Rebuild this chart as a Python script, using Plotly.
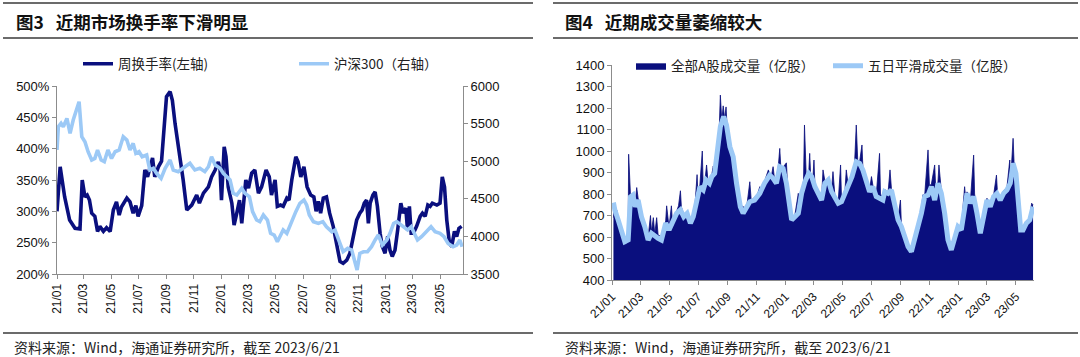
import plotly.graph_objects as go

# ---------------- Left chart data: weekly turnover (%) & CSI 300 ----------------
turn_dates = [
    "2021-01-01", "2021-01-08", "2021-01-18", "2021-01-29", "2021-02-10", "2021-02-21", "2021-02-26",
    "2021-03-04", "2021-03-09", "2021-03-14", "2021-03-19", "2021-03-26", "2021-04-01", "2021-04-06",
    "2021-04-14", "2021-04-21", "2021-04-29", "2021-05-06", "2021-05-13", "2021-05-19", "2021-05-24",
    "2021-06-05", "2021-06-12", "2021-06-19", "2021-06-25", "2021-06-30", "2021-07-08", "2021-07-15",
    "2021-07-21", "2021-07-26", "2021-08-01", "2021-08-06", "2021-08-14", "2021-08-21", "2021-08-27",
    "2021-09-01", "2021-09-09", "2021-09-14", "2021-09-20", "2021-10-01", "2021-10-08", "2021-10-16",
    "2021-10-27", "2021-11-07", "2021-11-13", "2021-11-22", "2021-12-03", "2021-12-10", "2021-12-18",
    "2021-12-25", "2021-12-29", "2022-01-01", "2022-01-07", "2022-01-11", "2022-01-16", "2022-01-24",
    "2022-01-29", "2022-02-04", "2022-02-10", "2022-02-15", "2022-02-18", "2022-02-24", "2022-03-02",
    "2022-03-09", "2022-03-16", "2022-03-24", "2022-03-31", "2022-04-10", "2022-04-17", "2022-04-22",
    "2022-04-30", "2022-05-05", "2022-05-12", "2022-05-18", "2022-05-26", "2022-05-31", "2022-06-06",
    "2022-06-15", "2022-06-20", "2022-06-26", "2022-07-03", "2022-07-10", "2022-07-18", "2022-07-25",
    "2022-07-30", "2022-08-04", "2022-08-09", "2022-08-15", "2022-08-22", "2022-08-29", "2022-09-06",
    "2022-09-14", "2022-09-21", "2022-09-28", "2022-10-06", "2022-10-13", "2022-10-20", "2022-10-28",
    "2022-11-04", "2022-11-09", "2022-11-14", "2022-11-19", "2022-11-23", "2022-11-27", "2022-12-03",
    "2022-12-08", "2022-12-13", "2022-12-19", "2022-12-24", "2022-12-30", "2023-01-05", "2023-01-10",
    "2023-01-15", "2023-01-21", "2023-01-27", "2023-02-03", "2023-02-08", "2023-02-14", "2023-02-18",
    "2023-02-22", "2023-02-26", "2023-03-03", "2023-03-10", "2023-03-18", "2023-03-23", "2023-03-29",
    "2023-04-04", "2023-04-09", "2023-04-14", "2023-04-24", "2023-05-01", "2023-05-06", "2023-05-11",
    "2023-05-16", "2023-05-22", "2023-05-27", "2023-06-02", "2023-06-07", "2023-06-12", "2023-06-18",
]
turn_vals = [
    300, 371, 323, 286, 273, 272, 350,
    323, 326, 318, 297, 292, 268, 276,
    268, 274, 268, 302, 315, 294, 307,
    321, 315, 297, 309, 292, 309, 366,
    355, 368, 385, 355, 371, 380, 430,
    483, 491, 477, 440, 387, 350, 302,
    310, 326, 313, 329, 339, 355, 366,
    379, 366, 318, 403, 387, 339, 313,
    278, 297, 318, 281, 308, 350, 337,
    361, 366, 329, 339, 366, 355, 326,
    350, 308, 310, 308, 321, 318, 350,
    387, 379, 355, 371, 339, 326, 323,
    300, 316, 297, 321, 323, 297, 276,
    249, 220, 217, 222, 233, 260, 286,
    297, 302, 313, 318, 281, 313, 326,
    331, 308, 265, 244, 233, 260, 238,
    228, 238, 270, 313, 297, 305, 270,
    308, 265, 265, 276, 292, 297, 292,
    310, 308, 313, 310, 313, 355, 339,
    286, 249, 244, 268, 260, 273, 276,
]

hs_dates = [
    "2021-01-01", "2021-01-04", "2021-01-10", "2021-01-15", "2021-01-23", "2021-01-30", "2021-02-06",
    "2021-02-14", "2021-02-19", "2021-02-25", "2021-03-04", "2021-03-11", "2021-03-19", "2021-03-26",
    "2021-04-01", "2021-04-09", "2021-04-16", "2021-04-24", "2021-05-02", "2021-05-10", "2021-05-19",
    "2021-05-28", "2021-06-05", "2021-06-12", "2021-06-19", "2021-06-25", "2021-07-02", "2021-07-09",
    "2021-07-19", "2021-07-26", "2021-08-03", "2021-08-10", "2021-08-20", "2021-08-29", "2021-09-09",
    "2021-09-16", "2021-09-27", "2021-10-12", "2021-10-23", "2021-11-03", "2021-11-14", "2021-11-25",
    "2021-12-03", "2021-12-10", "2021-12-18", "2021-12-29", "2022-01-05", "2022-01-13", "2022-01-20",
    "2022-01-27", "2022-02-04", "2022-02-15", "2022-02-22", "2022-03-04", "2022-03-11", "2022-03-20",
    "2022-03-27", "2022-04-04", "2022-04-13", "2022-04-20", "2022-04-28", "2022-05-05", "2022-05-12",
    "2022-05-18", "2022-05-26", "2022-06-06", "2022-06-15", "2022-06-24", "2022-07-03", "2022-07-09",
    "2022-07-15", "2022-07-24", "2022-08-04", "2022-08-14", "2022-08-22", "2022-09-03", "2022-09-10",
    "2022-09-21", "2022-09-28", "2022-10-08", "2022-10-17", "2022-10-24", "2022-10-29", "2022-11-04",
    "2022-11-12", "2022-11-21", "2022-11-30", "2022-12-08", "2022-12-15", "2022-12-24", "2023-01-03",
    "2023-01-10", "2023-01-18", "2023-01-25", "2023-02-03", "2023-02-11", "2023-02-18", "2023-02-26",
    "2023-03-05", "2023-03-12", "2023-03-21", "2023-04-01", "2023-04-11", "2023-04-20", "2023-05-01",
    "2023-05-10", "2023-05-19", "2023-05-30", "2023-06-07", "2023-06-14", "2023-06-19",
]
hs_vals = [
    5150, 5459, 5504, 5459, 5570, 5371, 5548,
    5703, 5791, 5326, 5259, 5126, 5016, 5037,
    5149, 5016, 4994, 5149, 5037, 5126, 5149,
    5326, 5281, 5149, 5237, 5104, 5126, 5060,
    5082, 4883, 4905, 4839, 4772, 4905, 5016,
    4883, 4861, 4927, 4972, 4883, 4905, 4861,
    4927, 5060, 4950, 4905, 4839, 4794, 4750,
    4573, 4550, 4639, 4573, 4528, 4329, 4218,
    4196, 4284, 4218, 4041, 4018, 3929, 4018,
    4085, 4041, 4218, 4329, 4440, 4484, 4417,
    4284, 4196, 4173, 4196, 4129, 4062, 4085,
    3907, 3796, 3841, 3819, 3663, 3553, 3774,
    3796, 3796, 3863, 3952, 4018, 3885, 3952,
    4041, 4173, 4196, 4151, 4107, 4085, 4129,
    4041, 3952, 3996, 4062, 4129, 4062, 4041,
    3996, 3907, 3863, 3885, 3952, 3863,
]

# ---------------- Right chart data: daily A-share volume & 5-day MA ----------------
vol_dates = [
    "2021-01-04", "2021-01-06", "2021-01-07", "2021-01-11", "2021-01-14", "2021-01-18", "2021-01-21",
    "2021-01-25", "2021-01-28", "2021-02-01", "2021-02-04", "2021-02-05", "2021-02-08", "2021-02-09",
    "2021-02-12", "2021-02-19", "2021-02-22", "2021-02-25", "2021-03-01", "2021-03-04", "2021-03-11",
    "2021-03-18", "2021-03-23", "2021-03-25", "2021-03-29", "2021-04-01", "2021-04-05", "2021-04-08",
    "2021-04-15", "2021-04-20", "2021-04-24", "2021-04-26", "2021-05-01", "2021-05-06", "2021-05-08",
    "2021-05-17", "2021-05-21", "2021-05-25", "2021-05-27", "2021-06-01", "2021-06-08", "2021-06-15",
    "2021-06-21", "2021-06-25", "2021-06-29", "2021-07-01", "2021-07-05", "2021-07-10", "2021-07-12",
    "2021-07-16", "2021-07-19", "2021-07-22", "2021-07-25", "2021-07-30", "2021-08-02", "2021-08-05",
    "2021-08-10", "2021-08-13", "2021-08-17", "2021-08-20", "2021-08-23", "2021-08-26", "2021-08-29",
    "2021-08-31", "2021-09-06", "2021-09-13", "2021-09-20", "2021-09-28", "2021-10-08", "2021-10-12",
    "2021-10-18", "2021-10-21", "2021-10-28", "2021-11-02", "2021-11-08", "2021-11-12", "2021-11-18",
    "2021-11-26", "2021-11-29", "2021-12-02", "2021-12-06", "2021-12-09", "2021-12-13", "2021-12-17",
    "2021-12-20", "2021-12-22", "2021-12-27", "2022-01-03", "2022-01-05", "2022-01-08", "2022-01-14",
    "2022-01-21", "2022-01-28", "2022-02-01", "2022-02-04", "2022-02-08", "2022-02-10", "2022-02-14",
    "2022-02-19", "2022-02-21", "2022-02-23", "2022-02-28", "2022-03-02", "2022-03-04", "2022-03-11",
    "2022-03-18", "2022-03-21", "2022-03-25", "2022-04-01", "2022-04-08", "2022-04-11", "2022-04-15",
    "2022-04-22", "2022-04-27", "2022-04-29", "2022-05-06", "2022-05-09", "2022-05-13", "2022-05-21",
    "2022-05-26", "2022-05-30", "2022-06-02", "2022-06-06", "2022-06-11", "2022-06-13", "2022-06-20",
    "2022-06-27", "2022-07-01", "2022-07-04", "2022-07-11", "2022-07-18", "2022-07-20", "2022-07-25",
    "2022-07-29", "2022-08-05", "2022-08-09", "2022-08-12", "2022-08-19", "2022-08-26", "2022-08-31",
    "2022-09-02", "2022-09-09", "2022-09-16", "2022-09-23", "2022-09-30", "2022-10-07", "2022-10-14",
    "2022-10-17", "2022-10-21", "2022-10-28", "2022-10-31", "2022-11-04", "2022-11-11", "2022-11-14",
    "2022-11-18", "2022-11-20", "2022-11-25", "2022-12-02", "2022-12-09", "2022-12-16", "2022-12-23",
    "2022-12-30", "2023-01-06", "2023-01-13", "2023-01-16", "2023-01-18", "2023-01-25", "2023-02-01",
    "2023-02-03", "2023-02-08", "2023-02-15", "2023-02-22", "2023-03-01", "2023-03-08", "2023-03-15",
    "2023-03-21", "2023-03-23", "2023-03-29", "2023-04-05", "2023-04-12", "2023-04-18", "2023-04-20",
    "2023-04-25", "2023-04-27", "2023-05-01", "2023-05-06", "2023-05-11", "2023-05-16", "2023-05-23",
    "2023-05-30", "2023-06-03", "2023-06-06",
]
vol_vals = [
    690, 740, 735, 725, 690, 650, 640,
    600, 565, 570, 600, 985, 800, 790,
    800, 760, 830, 780, 760, 705, 660,
    600, 700, 625, 690, 615, 690, 610,
    600, 640, 675, 745, 645, 745, 675,
    720, 745, 815, 740, 705, 720, 675,
    705, 760, 890, 790, 845, 1000, 830,
    870, 935, 860, 860, 890, 930, 905,
    1005, 990, 1260, 1140, 1210, 1150, 1205,
    1120, 1030, 985, 860, 750, 735, 750,
    857, 770, 785, 790, 834, 820, 860,
    912, 895, 880, 927, 870, 860, 930,
    1012, 935, 925, 945, 860, 780, 690,
    705, 803, 720, 810, 860, 1121, 865,
    900, 989, 890, 885, 958, 840, 810,
    780, 912, 860, 875, 820, 904, 795,
    765, 935, 775, 810, 912, 840, 890,
    920, 1121, 960, 950, 1028, 920, 875,
    820, 881, 840, 795, 989, 800, 780,
    820, 810, 912, 825, 765, 690, 772,
    655, 600, 560, 520, 590, 650, 720,
    796, 795, 1005, 840, 845, 935, 790,
    860, 935, 815, 720, 595, 548, 610,
    655, 640, 834, 760, 810, 765, 981,
    800, 720, 625, 705, 780, 750, 795,
    888, 810, 780, 815, 830, 958, 870,
    1059, 950, 900, 735, 640, 645, 675,
    690, 757, 750,
]

ma_dates = [
    "2021-01-04", "2021-01-07", "2021-01-14", "2021-01-21", "2021-01-28", "2021-02-04", "2021-02-09",
    "2021-02-14", "2021-02-19", "2021-02-25", "2021-03-04", "2021-03-11", "2021-03-18", "2021-03-25",
    "2021-04-01", "2021-04-08", "2021-04-15", "2021-04-24", "2021-05-01", "2021-05-08", "2021-05-17",
    "2021-05-25", "2021-06-01", "2021-06-08", "2021-06-15", "2021-06-21", "2021-06-28", "2021-07-05",
    "2021-07-12", "2021-07-18", "2021-07-25", "2021-07-30", "2021-08-05", "2021-08-10", "2021-08-17",
    "2021-08-24", "2021-08-30", "2021-09-06", "2021-09-13", "2021-09-20", "2021-09-28", "2021-10-04",
    "2021-10-08", "2021-10-12", "2021-10-18", "2021-10-28", "2021-11-08", "2021-11-18", "2021-11-29",
    "2021-12-06", "2021-12-13", "2021-12-20", "2021-12-27", "2022-01-03", "2022-01-08", "2022-01-14",
    "2022-01-21", "2022-01-28", "2022-02-04", "2022-02-11", "2022-02-19", "2022-02-25", "2022-03-04",
    "2022-03-11", "2022-03-18", "2022-03-25", "2022-04-01", "2022-04-08", "2022-04-15", "2022-04-22",
    "2022-04-29", "2022-05-06", "2022-05-13", "2022-05-21", "2022-05-30", "2022-06-06", "2022-06-13",
    "2022-06-20", "2022-06-27", "2022-07-04", "2022-07-11", "2022-07-18", "2022-07-25", "2022-07-29",
    "2022-08-05", "2022-08-12", "2022-08-19", "2022-08-26", "2022-09-02", "2022-09-09", "2022-09-16",
    "2022-09-23", "2022-09-30", "2022-10-07", "2022-10-14", "2022-10-21", "2022-10-28", "2022-11-04",
    "2022-11-11", "2022-11-18", "2022-11-25", "2022-12-02", "2022-12-09", "2022-12-16", "2022-12-23",
    "2022-12-30", "2023-01-06", "2023-01-13", "2023-01-18", "2023-01-25", "2023-02-01", "2023-02-08",
    "2023-02-15", "2023-02-22", "2023-03-01", "2023-03-08", "2023-03-15", "2023-03-22", "2023-03-29",
    "2023-04-05", "2023-04-12", "2023-04-19", "2023-04-25", "2023-05-01", "2023-05-06", "2023-05-11",
    "2023-05-16", "2023-05-23", "2023-05-30", "2023-06-06",
]
ma_vals = [
    760, 726, 679, 633, 578, 586, 787,
    795, 741, 772, 694, 648, 586, 617,
    602, 594, 586, 664, 633, 664, 710,
    726, 694, 710, 664, 694, 772, 834,
    819, 865, 850, 881, 896, 973, 1113,
    1160, 1120, 1020, 973, 850, 741, 710,
    726, 741, 764, 772, 803, 850, 888,
    873, 850, 927, 919, 850, 772, 679,
    694, 710, 803, 857, 896, 881, 834,
    803, 772, 850, 865, 811, 788, 757,
    764, 803, 834, 881, 950, 942, 911,
    865, 811, 834, 788, 780, 772, 811,
    803, 819, 757, 679, 648, 594, 555,
    532, 586, 640, 710, 788, 795, 834,
    772, 850, 803, 710, 586, 540, 602,
    648, 633, 741, 803, 757, 788, 710,
    617, 694, 772, 741, 788, 803, 772,
    803, 819, 850, 943, 896, 726, 633,
    633, 664, 679, 741,
]

DARK = "#0A0F7E"
LIGHT = "#9CC9F6"
AXIS = "#8C8C8C"
CJK = "Noto Sans CJK SC"
LAT = "Liberation Sans"

fig = go.Figure()

fig.add_trace(go.Scatter(
    x=turn_dates, y=turn_vals, mode="lines", name="周换手率(左轴)",
    line=dict(color=DARK, width=3.6), xaxis="x", yaxis="y", legend="legend",
))
fig.add_trace(go.Scatter(
    x=hs_dates, y=hs_vals, mode="lines", name="沪深300（右轴）",
    line=dict(color=LIGHT, width=3.6), xaxis="x", yaxis="y2", legend="legend",
))
fig.add_trace(go.Scatter(
    x=vol_dates, y=vol_vals, mode="lines", name="全部A股成交量（亿股）",
    line=dict(color=DARK, width=0.8), fill="tozeroy", fillcolor=DARK,
    xaxis="x2", yaxis="y3", legend="legend2",
))
fig.add_trace(go.Scatter(
    x=ma_dates, y=ma_vals, mode="lines", name="五日平滑成交量（亿股）",
    line=dict(color=LIGHT, width=5), xaxis="x2", yaxis="y3", legend="legend2",
))

W, H = 1080, 357
def px(v):
    return v / W
def py(v):
    return 1 - v / H

tickfont = dict(family=LAT, size=13, color="#111111")
common_axis = dict(showgrid=False, zeroline=False, showline=True, linecolor=AXIS,
                   linewidth=1, ticks="outside", tickcolor=AXIS, ticklen=4, automargin=False)

fig.update_layout(
    width=W, height=H,
    margin=dict(l=0, r=0, t=0, b=0, pad=0, autoexpand=False),
    paper_bgcolor="white", plot_bgcolor="white",
    showlegend=True,
    xaxis=dict(domain=[px(57), px(463)], anchor="y", type="date",
               range=["2021-01-01", "2023-06-21"], tick0="2021-01-01", dtick="M2",
               tickformat="%y/%m", tickangle=-90, tickfont=dict(family=LAT, size=12, color="#111111"),
               **common_axis),
    yaxis=dict(domain=[py(274), py(86)], anchor="x", range=[200, 500], dtick=50,
               ticksuffix="%", tickfont=tickfont, **common_axis),
    yaxis2=dict(overlaying="y", side="right", anchor="x", range=[3500, 6000], dtick=500,
                tickfont=tickfont, **common_axis),
    xaxis2=dict(domain=[px(612), px(1034)], anchor="y3", type="date",
                range=["2021-01-01", "2023-06-08"], tick0="2021-01-01", dtick="M2",
                tickformat="%y/%m", tickangle=-45, tickfont=dict(family=LAT, size=12, color="#111111"),
                **common_axis),
    yaxis3=dict(domain=[py(280), py(65)], anchor="x2", range=[400, 1400], dtick=100,
                tickfont=tickfont, **common_axis),
    legend=dict(orientation="h", x=px(78), y=py(64), xanchor="left", yanchor="middle",
                entrywidth=171, font=dict(family=CJK, size=13.5, color="#222222"),
                bgcolor="rgba(0,0,0,0)", traceorder="normal"),
    legend2=dict(orientation="h", x=px(631), y=py(66), xanchor="left", yanchor="middle",
                 entrywidth=152, font=dict(family=CJK, size=13.5, color="#222222"),
                 bgcolor="rgba(0,0,0,0)", traceorder="normal"),
)

# Panel titles and sources
annos = [
    dict(text="<b>图3\u00a0\u00a0 近期市场换手率下滑明显</b>", x=px(14), y=py(21)),
    dict(text="<b>图4\u00a0\u00a0 近期成交量萎缩较大</b>", x=px(563), y=py(21)),
]
for a in annos:
    fig.add_annotation(xref="paper", yref="paper", xanchor="left", yanchor="middle",
                       showarrow=False, font=dict(family=CJK, size=17.5, color="#111111"), **a)
for xs in (12, 563):
    fig.add_annotation(text="资料来源：Wind，海通证券研究所，截至 2023/6/21", xref="paper", yref="paper",
                       x=px(xs), y=py(347), xanchor="left", yanchor="middle", showarrow=False,
                       font=dict(family=CJK, size=14, color="#222222"))

# Separator rules
for (x0, x1) in ((3, 533), (553, 1078)):
    for yy in (3, 38, 333):
        fig.add_shape(type="line", xref="paper", yref="paper", x0=px(x0), x1=px(x1),
                      y0=py(yy), y1=py(yy), line=dict(color="#3A3A3A", width=1.5))

fig.write_html("out.html", config={"displayModeBar": False},
               post_script="document.body.style.margin='0';")
